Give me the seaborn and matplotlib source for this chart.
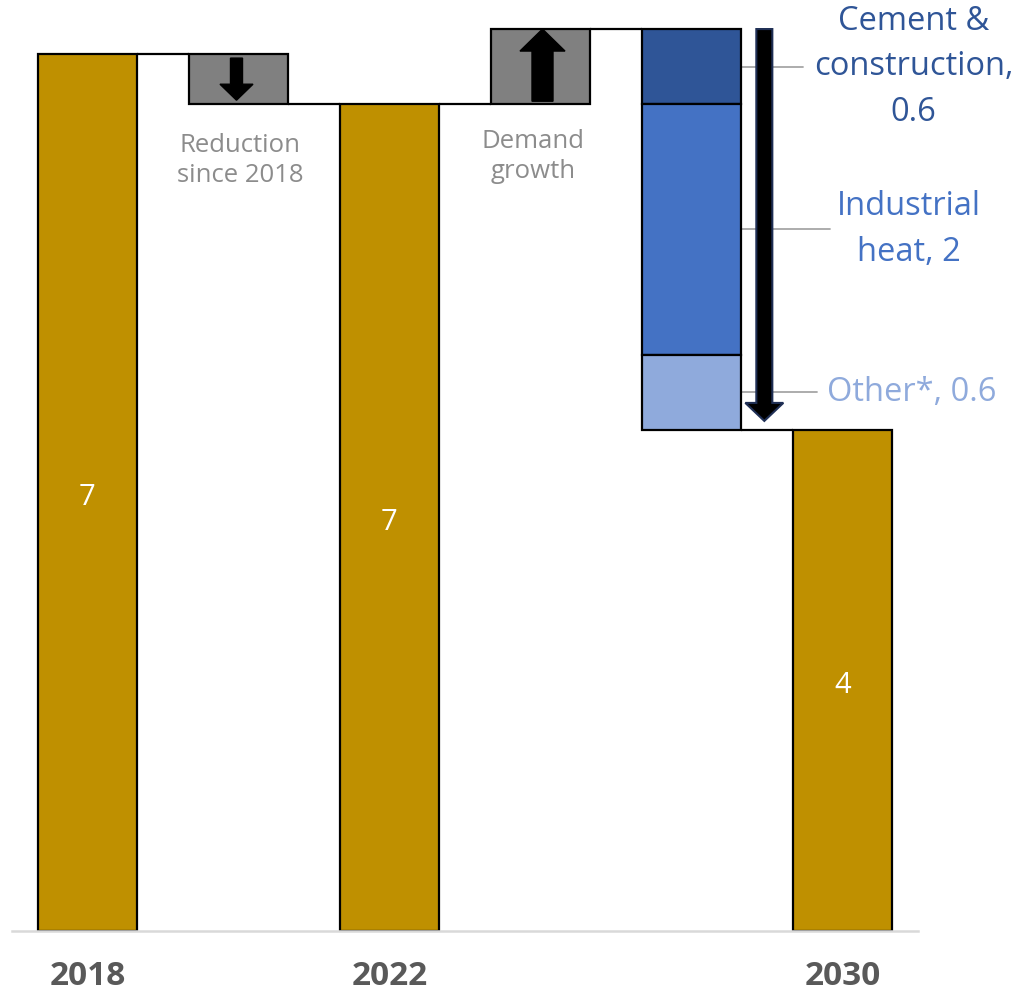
import matplotlib
matplotlib.use("Agg")
import matplotlib.pyplot as plt
from matplotlib.patches import FancyArrow
import pandas as pd
import seaborn as sns

# --- data -------------------------------------------------------------
step_order = ["2018", "Reduction since 2018", "2022", "Demand growth",
              "Abatement", "2030"]
years = ["2018", "2022", "2030"]
totals = [7.0, 6.6, 4.0]
reduction_since_2018 = 0.4
demand_growth = 0.6
abatement_labels = ["Cement &\nconstruction,", "Industrial\nheat,", "Other*,"]
abatement_values = [0.6, 2.0, 0.6]

# --- style ------------------------------------------------------------
GOLD = "#BF9000"
GREY_BOX = "#808080"
ABATE_COLORS = ["#2F5597", "#4472C4", "#8FAADC"]
NOTE_GREY = "#8C8C8C"
LEADER_GREY = "#A6A6A6"
TICK_GREY = "#595959"
BAR_W = 0.66
EDGE = dict(edgecolor="black", linewidth=1.6)

sns.set_theme(style="white")
plt.rcParams["font.family"] = ["Open Sans", "DejaVu Sans"]

fig = plt.figure(figsize=(10.18, 9.94), dpi=100)
ax = fig.add_axes([12 / 1018, 63 / 994, 906 / 1018, 927 / 994])

# totals drawn with seaborn on the full categorical axis
df = pd.DataFrame({"step": years, "value": totals})
sns.barplot(data=df, x="step", y="value", order=step_order, color=GOLD,
            width=BAR_W, saturation=1, ax=ax, **EDGE)

pos = {name: i for i, name in enumerate(step_order)}
half = BAR_W / 2

# floating steps
v2018, v2022, v2030 = totals
ax.bar(pos["Reduction since 2018"], reduction_since_2018,
       bottom=v2018 - reduction_since_2018, width=BAR_W, color=GREY_BOX, **EDGE)
ax.bar(pos["Demand growth"], demand_growth, bottom=v2022,
       width=BAR_W, color=GREY_BOX, **EDGE)

peak = v2022 + demand_growth
top = peak
seg_mids = []
for val, col in zip(abatement_values, ABATE_COLORS):
    ax.bar(pos["Abatement"], val, bottom=top - val, width=BAR_W,
           color=col, zorder=2, **EDGE)
    seg_mids.append(top - val / 2)
    top -= val
floor = top

# connectors between steps
conn = dict(color="black", linewidth=1.6, zorder=3, solid_capstyle="butt")
ax.plot([pos["2018"] + half, pos["Reduction since 2018"] - half], [v2018, v2018], **conn)
ax.plot([pos["Reduction since 2018"] + half, pos["2022"] - half], [v2022, v2022], **conn)
ax.plot([pos["2022"] + half, pos["Demand growth"] - half], [v2022, v2022], **conn)
ax.plot([pos["Demand growth"] + half, pos["Abatement"] - half], [peak, peak], **conn)
ax.plot([pos["Abatement"] + half, pos["2030"] - half], [floor, floor], **conn)

# values inside the totals
for yr, v in zip(years, totals):
    ax.text(pos[yr], v / 2 - 0.04, f"{v:.0f}", color="white", fontsize=21,
            ha="center", va="center", zorder=4)

# arrows inside the grey boxes
PX_X, PX_Y = 1 / 151, 1 / 125.27
x_red = pos["Reduction since 2018"]
ax.add_patch(FancyArrow(x_red - 2 * PX_X, v2018 - 4 * PX_Y, 0,
                        -(reduction_since_2018 - 8 * PX_Y),
                        width=12 * PX_X, head_width=33 * PX_X,
                        head_length=16 * PX_Y, length_includes_head=True,
                        color="black", zorder=4))
x_dem = pos["Demand growth"]
ax.add_patch(FancyArrow(x_dem + 2 * PX_X, v2022 + 3 * PX_Y, 0,
                        demand_growth - 3 * PX_Y,
                        width=21 * PX_X, head_width=45 * PX_X,
                        head_length=22 * PX_Y, length_includes_head=True,
                        color="black", zorder=4))

# big arrow for the total abatement
x_big = pos["Abatement"] + half + 23 * PX_X
ax.add_patch(FancyArrow(x_big, peak, 0, -(peak - floor - 9 * PX_Y),
                        width=16 * PX_X, head_width=38 * PX_X,
                        head_length=18 * PX_Y, length_includes_head=True,
                        facecolor="black", edgecolor="#1F2F55",
                        linewidth=1.5, zorder=5))

# segment labels with leader lines
x_edge = pos["Abatement"] + half
leader_ends = [4.74, 4.92, 4.83]
label_x = [5.47, 5.44, 5.46]
for name, val, col, ymid, xe, xl in zip(abatement_labels, abatement_values,
                                         ABATE_COLORS, seg_mids, leader_ends,
                                         label_x):
    ax.plot([x_edge, xe], [ymid, ymid], color=LEADER_GREY, linewidth=1.3,
            zorder=1, clip_on=False)
    sep = " " if name.endswith("heat,") or name.startswith("Other") else "\n"
    ax.text(xl, ymid, f"{name}{sep}{val:g}", color=col, fontsize=23.5,
            ha="center", va="center", linespacing=1.5, clip_on=False)

# notes under the grey boxes
ax.text(x_red + 0.01, 6.15, "Reduction\nsince 2018", color=NOTE_GREY,
        fontsize=18.5, ha="center", va="center", linespacing=1.28)
ax.text(x_dem - 0.05, 6.18, "Demand\ngrowth", color=NOTE_GREY,
        fontsize=18.5, ha="center", va="center", linespacing=1.28)

# axes cosmetics
ax.set_xlim(-0.5, 5.5)
ax.set_ylim(0, 7.4)
ax.set_xticks([pos[y] for y in years])
ax.set_xticklabels(years, fontsize=24, fontweight="bold", color=TICK_GREY)
ax.tick_params(axis="x", length=0, pad=21)
ax.set_yticks([])
ax.set_xlabel("")
ax.set_ylabel("")
for side in ["top", "right", "left"]:
    ax.spines[side].set_visible(False)
ax.spines["bottom"].set_color("#D9D9D9")
ax.spines["bottom"].set_linewidth(1.8)

fig.savefig("out.png", dpi=100)
